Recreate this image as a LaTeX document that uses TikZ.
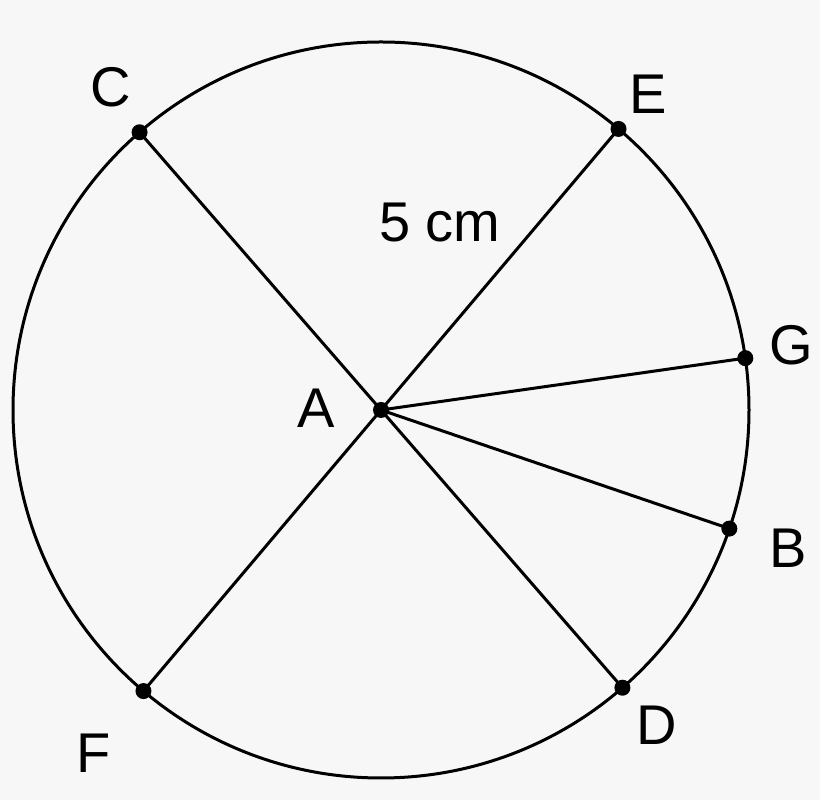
\documentclass[tikz,border=0pt]{standalone}
\usepackage{fontspec}
\setmainfont{Liberation Sans}
\usetikzlibrary{calc}
\definecolor{bggray}{RGB}{247,247,247}

\begin{document}
\begin{tikzpicture}[line cap=round,line join=round,x=1pt,y=1pt,
    lbl/.style={anchor=base,inner sep=0pt,font=\fontsize{56}{60}\selectfont}]
                \fill [bggray] (0,0) rectangle (820,800);
                \useasboundingbox (0,0) rectangle (820,800);
                \coordinate (A) at (381,390);
                \coordinate (C) at ($(A)+(131:368)$);
                \coordinate (E) at ($(A)+(49.8:368)$);
                \coordinate (G) at ($(A)+(8.1:368)$);
                \coordinate (B) at ($(A)+(-18.8:368)$);
                \coordinate (D) at ($(A)+(-49:368)$);
                \coordinate (F) at ($(A)+(229.8:368)$);
                \draw [line width=3pt] (A) circle (368);
                \draw [line width=3pt] (C)-- (D);
                \draw [line width=3pt] (E)-- (F);
                \draw [line width=3pt] (A)-- (G);
                \draw [line width=3pt] (A)-- (B);
                \foreach \p in {A,C,E,G,B,D,F}
                    \fill [black] (\p) circle (8);
                \node[lbl] (labC) at (111,693) {C};
                \node[lbl] (labE) at (648,686) {E};
                \node[lbl] (labG) at (791,435) {G};
                \node[lbl] (labB) at (788,232) {B};
                \node[lbl] (labD) at (657,55) {D};
                \node[lbl] (labF) at (94,27) {F};
                \node[lbl] (labA) at (316,372) {A};
                \node[lbl] (labR) at (440,558) {5 cm};
            \end{tikzpicture}
\end{document}
